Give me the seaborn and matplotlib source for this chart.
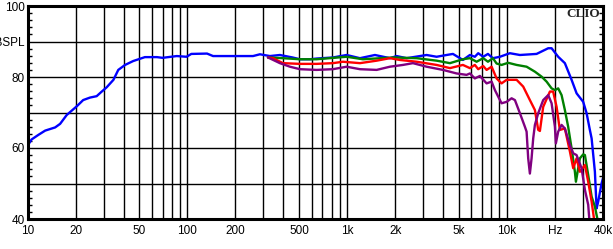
import matplotlib
matplotlib.use("Agg")
import matplotlib.pyplot as plt
import seaborn as sns
import pandas as pd

# ---- data (frequency in Hz, level in dB SPL) ----
blue_f = [10, 10.6, 11.7, 12.9, 14.9, 16.0, 17.6, 20.4, 22.3, 24.6, 27.1, 29, 31.3, 34.5, 37.0,
          40.8, 45.9, 54.3, 64.6, 70, 86, 99, 106, 133, 145, 194, 258, 285, 329, 380, 456,
          507, 586, 645, 816, 994, 1204, 1495, 1856, 2044, 2360, 3148, 3636, 4200, 4600,
          5310, 5875, 6310, 6622, 7115, 7620, 8185, 9057, 10450, 12078, 15360, 18160, 19070,
          20970, 23090, 25440, 27340, 30070, 31580, 33100, 33950, 35590, 36480, 37330,
          39180, 40000]
blue_db = [60.6, 62.4, 63.7, 64.9, 65.8, 66.8, 69.3, 71.8, 73.5, 74.2, 74.6, 75.8, 77.1, 79.2, 82.0,
           83.4, 84.5, 85.6, 85.6, 85.4, 85.9, 85.7, 86.5, 86.6, 85.9, 85.9, 85.9, 86.4, 85.9, 86.2, 85.5,
           85.0, 85.0, 85.2, 85.5, 86.2, 85.3, 86.2, 85.3, 85.9, 85.3, 86.2, 85.7, 86.2, 86.5,
           84.8, 86.2, 85.7, 86.7, 85.7, 86.5, 85.3, 85.7, 86.7, 86.2, 86.5, 88.1, 88.1,
           85.7, 83.9, 79.2, 75.4, 73.0, 69.8, 65.1, 62.7, 53.3, 43.0, 44.9,
           50.0, 51.5]

green_f = [320, 397, 507, 645, 994, 1257, 1937, 2726, 3636, 4405, 5310, 5875, 6470, 7115, 7620,
           8185, 8630, 9270, 10200, 11517, 13300, 14990, 16510, 17740, 19070, 20000, 20970,
           22020, 23090, 24210, 25440, 26680, 27070, 28670, 30070, 30820, 32320, 33950,
           35590, 36480, 37330]
green_db = [85.5, 85.3, 85.0, 85.0, 85.7, 85.0, 85.5, 85.3, 84.6, 83.9, 85.0, 85.3, 84.3, 85.3, 84.3,
            85.3, 83.8, 83.4, 84.0, 83.4, 82.9, 81.5, 80.1, 78.7, 76.8, 76.3, 76.8,
            74.9, 70.7, 66.0, 59.9, 53.3, 50.5, 57.1, 58.2, 58.0, 52.4, 46.3,
            43.5, 41.1, 39.0]

red_f = [320, 344, 397, 507, 645, 816, 942, 1204, 1532, 1856, 2143, 2726, 3636, 4405, 5310,
         5875, 6310, 6622, 7115, 7472, 8035, 8630, 9270, 9970, 11517, 12665, 13945, 14990,
         15724, 16110, 16896, 18610, 19500, 20490, 21480, 23090, 24830, 26040, 27340,
         28670, 30820, 32320, 33950, 35080, 36000]
red_db = [85.5, 85.3, 83.9, 83.7, 83.7, 83.9, 84.3, 83.9, 84.6, 85.3, 84.8, 84.3, 83.4, 82.5, 83.4,
          82.5, 83.4, 82.2, 83.1, 82.0, 82.9, 79.6, 78.2, 79.2, 79.2, 77.3, 73.5, 70.7,
          65.1, 64.8, 71.6, 75.9, 75.9, 71.6, 65.1, 65.5, 59.0, 54.3, 57.1,
          53.3, 55.2, 50.5, 44.9, 40.3, 38.0]

purple_f = [320, 380, 439, 507, 645, 816, 994, 1204, 1532, 1856, 2238, 2585, 3148, 3981, 4852,
            5600, 5875, 6310, 6786, 7472, 8035, 8425, 9270, 9970, 10715, 11240, 12078, 12975,
            13300, 13610, 13945, 14290, 14630, 14990, 15724, 16896, 18160, 19070, 20000,
            20280, 20970, 22020, 23090, 24830, 26040, 27340, 29380, 30820, 32320, 32790, 33500]
purple_db = [85.5, 83.9, 82.9, 82.2, 82.0, 82.2, 82.9, 82.2, 82.0, 82.9, 83.4, 83.9, 82.9, 82.0, 81.0,
             80.6, 81.0, 79.6, 80.3, 78.2, 78.7, 76.3, 72.6, 73.0, 74.0, 73.5, 69.8, 66.0,
             64.6, 57.1, 52.8, 57.1, 62.7, 66.5, 69.8, 73.5, 74.9, 72.6, 66.0,
             61.3, 64.6, 66.5, 65.5, 60.8, 58.5, 58.0, 54.3, 48.2, 44.0, 40.3, 38.0]

x_grid = [10, 20, 30, 40, 50, 60, 70, 80, 90, 100, 200, 300, 400, 500, 600, 700, 800, 900,
          1000, 2000, 3000, 4000, 5000, 6000, 7000, 8000, 9000, 10000, 20000, 30000, 40000]
x_labels = {10: "10", 20: "20", 50: "50", 100: "100", 200: "200", 500: "500", 1000: "1k",
            2000: "2k", 5000: "5k", 10000: "10k", 20000: "Hz", 40000: "40k"}
y_major = [40, 50, 60, 70, 80, 90, 100]
y_labels = {40: "40", 60: "60", 80: "80", 90: "dBSPL", 100: "100"}

# ---- plotting ----
sns.set_style("white")
plt.rcParams["font.family"] = ["Liberation Sans", "DejaVu Sans"]

fig = plt.figure(figsize=(6.13, 2.49), dpi=100)
ax = fig.add_axes([27.5 / 613, 1 - 219 / 249, (603 - 27.5) / 613, (219 - 6) / 249])

series = [(blue_f, blue_db, "#0000ff"), (green_f, green_db, "#008000"),
          (red_f, red_db, "#ff0000"), (purple_f, purple_db, "#800080")]
for f, d, c in series:
    df = pd.DataFrame({"f": f, "db": d})
    sns.lineplot(data=df, x="f", y="db", color=c, linewidth=1.7, estimator=None,
                 sort=False, ax=ax, zorder=3)

ax.set_xscale("log")
ax.set_xlim(10, 40000)
ax.set_ylim(40, 100)
ax.set_xlabel("")
ax.set_ylabel("")

ax.set_xticks(x_grid)
ax.set_xticklabels([x_labels.get(v, "") for v in x_grid])
ax.xaxis.set_minor_locator(matplotlib.ticker.NullLocator())
ax.set_yticks(y_major)
ax.set_yticklabels([y_labels.get(v, "") for v in y_major])
ax.set_yticks(list(range(40, 101, 2)), minor=True)

ax.tick_params(axis="x", which="major", length=0, pad=4, labelsize=8.5, colors="black")
ax.tick_params(axis="y", which="major", length=0, pad=2, labelsize=8.5, colors="black")
ax.tick_params(axis="y", which="minor", direction="in", length=3, width=1,
               left=True, right=True, color="black")

ax.grid(True, which="major", color="black", linewidth=1.0)
ax.set_axisbelow(True)
for s in ax.spines.values():
    s.set_visible(True)
    s.set_color("black")
    s.set_linewidth(2.2)
    s.set_zorder(5)

ax.text(0.995, 0.99, "CLIO", transform=ax.transAxes, ha="right", va="top",
        fontsize=9.5, fontweight="bold", family=["Liberation Serif", "DejaVu Serif"],
        zorder=6)

fig.savefig("out.png", dpi=100)
